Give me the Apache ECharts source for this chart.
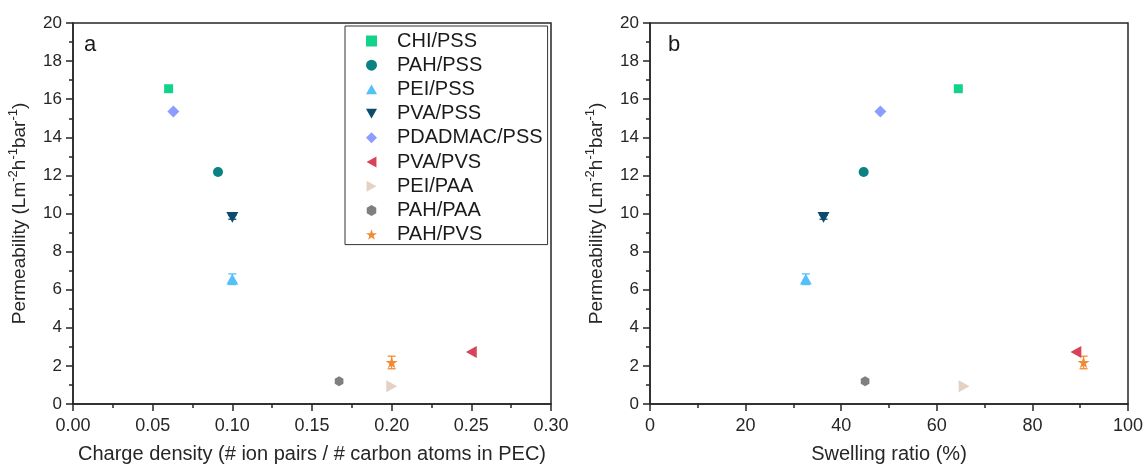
<!DOCTYPE html>
<html>
<head>
<meta charset="utf-8">
<script src="https://cdn.jsdelivr.net/npm/echarts@6/dist/echarts.min.js"></script>
<style>
  html, body { margin: 0; padding: 0; background: #fff; }
  #chart { width: 1143px; height: 466px; }
</style>
</head>
<body>
<div id="chart"></div>
<script>
// Polyelectrolyte complex membranes: permeability vs charge density and swelling ratio
const names = ['CHI/PSS', 'PAH/PSS', 'PEI/PSS', 'PVA/PSS', 'PDADMAC/PSS', 'PVA/PVS', 'PEI/PAA', 'PAH/PAA', 'PAH/PVS'];
const chargeDensity = [0.06, 0.091, 0.10, 0.10, 0.063, 0.25, 0.20, 0.167, 0.20];
const swellingRatio = [64.5, 44.7, 32.6, 36.3, 48.2, 89.1, 65.7, 45.0, 90.7];
const permeability = [16.55, 12.18, 6.55, 9.8, 15.35, 2.73, 0.93, 1.2, 2.18];
const permeabilityErr = [0, 0, 0.28, 0.1, 0, 0, 0, 0, 0.33];

const colors = ['#13D38B', '#0A8282', '#55C0F8', '#0C4A6E', '#8C9CFF', '#DA4259', '#E3D1C4', '#7F7F7F', '#F38A32'];

// marker shapes (triangles pointing up / down / left / right, hexagon, star)
const triUp = 'path://M1,0L2,1.8L0,1.8Z';
const triDown = 'path://M0,0L2,0L1,1.8Z';
const triLeft = 'path://M0,1L1.8,0L1.8,2Z';
const triRight = 'path://M0,0L1.8,1L0,2Z';
const hexagon = 'path://M0,-1L0.866,-0.5L0.866,0.5L0,1L-0.866,0.5L-0.866,-0.5Z';
const star = 'path://M0,-1L0.2245,-0.309L0.9511,-0.309L0.3633,0.118L0.5878,0.809L0,0.382L-0.5878,0.809L-0.3633,0.118L-0.9511,-0.309L-0.2245,-0.309Z';
const symbols = ['rect', 'circle', triUp, triDown, 'diamond', triLeft, triRight, hexagon, star];
const sizes = [9, 10, 12, 12, 12, 12, 12, 10, 12];

const FONT = 'Liberation Sans, Arial, sans-serif';
const INK = '#262626';

function xAxisCfg(gridIndex, min, max, interval, name, digits) {
  return {
    type: 'value', gridIndex, min, max, interval,
    name, nameLocation: 'middle', nameGap: 40,
    nameTextStyle: { fontFamily: FONT, fontSize: 20, color: INK },
    axisLine: { show: true, onZero: false, lineStyle: { color: INK, width: 1.5 } },
    axisTick: { show: true, inside: false, length: 7, lineStyle: { color: INK, width: 1.5 } },
    minorTick: { show: true, splitNumber: 2, length: 4, lineStyle: { color: INK, width: 1.5 } },
    axisLabel: { fontFamily: FONT, fontSize: 18, color: INK, margin: 13,
      formatter: v => v.toFixed(digits) },
    splitLine: { show: false }
  };
}

function yAxisCfg(gridIndex) {
  return {
    type: 'value', gridIndex, min: 0, max: 20, interval: 2,
    name: '{t|Permeability (Lm}{s|-2}{t|h}{s|-1}{t|bar}{s|-1}{t|)}',
    nameLocation: 'middle', nameGap: 44, nameRotate: 90,
    nameTextStyle: {
      fontFamily: FONT, color: INK,
      rich: {
        t: { fontFamily: FONT, fontSize: 19, color: INK, lineHeight: 22, verticalAlign: 'bottom' },
        s: { fontFamily: FONT, fontSize: 13, color: INK, lineHeight: 22, verticalAlign: 'top' }
      }
    },
    axisLine: { show: true, onZero: false, lineStyle: { color: INK, width: 1.5 } },
    axisTick: { show: true, inside: false, length: 7, lineStyle: { color: INK, width: 1.5 } },
    minorTick: { show: true, splitNumber: 2, length: 4, lineStyle: { color: INK, width: 1.5 } },
    axisLabel: { fontFamily: FONT, fontSize: 17, color: INK, margin: 11 },
    splitLine: { show: false }
  };
}

function scatterSeries(gridIndex, xs) {
  return names.map((n, i) => ({
    type: 'scatter', name: n,
    xAxisIndex: gridIndex, yAxisIndex: gridIndex,
    symbol: symbols[i], symbolSize: sizes[i], symbolKeepAspect: true,
    itemStyle: { color: colors[i], opacity: 1 },
    z: 3,
    data: [[xs[i], permeability[i]]]
  }));
}

function errorSeries(gridIndex, xs) {
  const data = [];
  names.forEach((n, i) => {
    if (permeabilityErr[i] > 0) {
      data.push([xs[i], permeability[i] - permeabilityErr[i], permeability[i] + permeabilityErr[i], i]);
    }
  });
  return {
    type: 'custom', name: 'errorbars-' + gridIndex,
    xAxisIndex: gridIndex, yAxisIndex: gridIndex,
    encode: { x: 0, y: [1, 2] },
    z: 2, silent: true,
    renderItem: (params, api) => {
      const x = api.value(0);
      const lo = api.coord([x, api.value(1)]);
      const hi = api.coord([x, api.value(2)]);
      const c = colors[api.value(3)];
      const cap = 4;
      const style = { stroke: c, lineWidth: 1.3 };
      return {
        type: 'group',
        children: [
          { type: 'line', shape: { x1: lo[0], y1: lo[1], x2: hi[0], y2: hi[1] }, style },
          { type: 'line', shape: { x1: lo[0] - cap, y1: lo[1], x2: lo[0] + cap, y2: lo[1] }, style },
          { type: 'line', shape: { x1: hi[0] - cap, y1: hi[1], x2: hi[0] + cap, y2: hi[1] }, style }
        ]
      };
    },
    data
  };
}

const gridBase = { top: 23, width: 478, height: 381, show: true, borderColor: INK, borderWidth: 1.5,
  containLabel: false, outerBoundsMode: 'none' };

const chart = echarts.init(document.getElementById('chart'), null, { renderer: 'canvas' });
chart.setOption({
  animation: false,
  backgroundColor: '#fff',
  textStyle: { fontFamily: FONT },
  grid: [
    Object.assign({ left: 73 }, gridBase),
    Object.assign({ left: 650 }, gridBase)
  ],
  xAxis: [
    xAxisCfg(0, 0, 0.3, 0.05, 'Charge density (# ion pairs / # carbon atoms in PEC)', 2),
    xAxisCfg(1, 0, 100, 20, 'Swelling ratio (%)', 0)
  ],
  yAxis: [yAxisCfg(0), yAxisCfg(1)],
  legend: {
    data: names.map((n, i) => ({ name: n, icon: symbols[i] })),
    orient: 'vertical',
    left: 345, top: 26,
    padding: [5, 5, 0, 21],
    itemWidth: 11, itemHeight: 11, itemGap: 4.2,
    symbolKeepAspect: true,
    borderColor: '#333', borderWidth: 1,
    backgroundColor: '#fff',
    selectedMode: false,
    textStyle: { fontFamily: FONT, fontSize: 20, color: '#1a1a1a', lineHeight: 20, padding: [0, 0, 0, 15] }
  },
  graphic: [
    { type: 'text', left: 84, top: 34, style: { text: 'a', fontFamily: FONT, fontSize: 22, fill: '#1a1a1a' } },
    { type: 'text', left: 668, top: 34, style: { text: 'b', fontFamily: FONT, fontSize: 22, fill: '#1a1a1a' } }
  ],
  series: [
    errorSeries(0, chargeDensity),
    errorSeries(1, swellingRatio),
    ...scatterSeries(0, chargeDensity),
    ...scatterSeries(1, swellingRatio)
  ]
});
</script>
</body>
</html>
